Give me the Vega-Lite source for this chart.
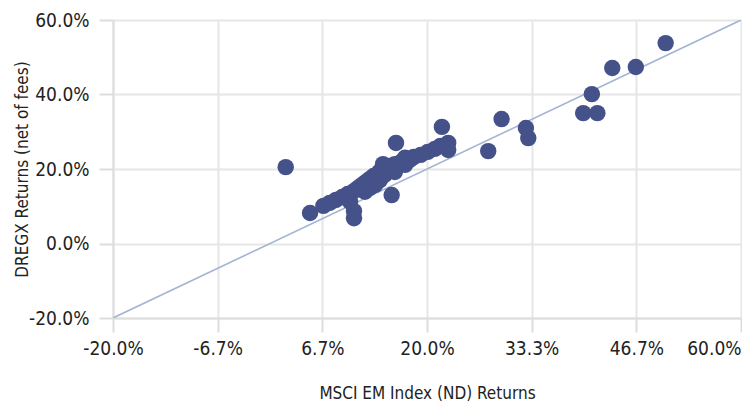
{
  "$schema": "https://vega.github.io/schema/vega-lite/v6.json",
  "width": 628,
  "height": 298,
  "autosize": {"type": "none"},
  "padding": {"left": 113, "top": 20, "right": 1, "bottom": 88},
  "background": "white",
  "config": {
    "font": "DejaVu Sans Condensed, Liberation Sans Narrow, Roboto Condensed, Roboto",
    "view": {"stroke": null},
    "axis": {
      "gridColor": "#e6e6e6",
      "gridWidth": 2,
      "domainColor": "#dddddd",
      "domainWidth": 2,
      "tickColor": "#dddddd",
      "tickWidth": 2,
      "tickSize": 14,
      "labelFontSize": 19,
      "labelColor": "#222222",
      "titleFontSize": 17,
      "titleFontWeight": "normal",
      "titleColor": "#222222"
    }
  },
  "datasets": {
    "pts": [
      {"msci": 0.020, "dregx": 0.205},
      {"msci": 0.051, "dregx": 0.082},
      {"msci": 0.107, "dregx": 0.087},
      {"msci": 0.107, "dregx": 0.068},
      {"msci": 0.155, "dregx": 0.130},
      {"msci": 0.1605, "dregx": 0.270},
      {"msci": 0.219, "dregx": 0.313},
      {"msci": 0.227, "dregx": 0.270},
      {"msci": 0.227, "dregx": 0.251},
      {"msci": 0.278, "dregx": 0.248},
      {"msci": 0.295, "dregx": 0.334},
      {"msci": 0.326, "dregx": 0.310},
      {"msci": 0.329, "dregx": 0.283},
      {"msci": 0.410, "dregx": 0.401},
      {"msci": 0.399, "dregx": 0.350},
      {"msci": 0.417, "dregx": 0.350},
      {"msci": 0.436, "dregx": 0.471},
      {"msci": 0.466, "dregx": 0.474},
      {"msci": 0.504, "dregx": 0.538},
      {"msci": 0.068, "dregx": 0.101},
      {"msci": 0.076, "dregx": 0.109},
      {"msci": 0.084, "dregx": 0.117},
      {"msci": 0.092, "dregx": 0.125},
      {"msci": 0.099, "dregx": 0.133},
      {"msci": 0.107, "dregx": 0.141},
      {"msci": 0.112, "dregx": 0.149},
      {"msci": 0.117, "dregx": 0.157},
      {"msci": 0.122, "dregx": 0.165},
      {"msci": 0.127, "dregx": 0.173},
      {"msci": 0.132, "dregx": 0.181},
      {"msci": 0.139, "dregx": 0.192},
      {"msci": 0.145, "dregx": 0.203},
      {"msci": 0.152, "dregx": 0.208},
      {"msci": 0.159, "dregx": 0.213},
      {"msci": 0.167, "dregx": 0.219},
      {"msci": 0.176, "dregx": 0.227},
      {"msci": 0.183, "dregx": 0.232},
      {"msci": 0.192, "dregx": 0.238},
      {"msci": 0.201, "dregx": 0.246},
      {"msci": 0.210, "dregx": 0.254},
      {"msci": 0.217, "dregx": 0.262},
      {"msci": 0.102, "dregx": 0.112},
      {"msci": 0.121, "dregx": 0.139},
      {"msci": 0.134, "dregx": 0.157},
      {"msci": 0.146, "dregx": 0.184},
      {"msci": 0.159, "dregx": 0.197},
      {"msci": 0.172, "dregx": 0.211},
      {"msci": 0.178, "dregx": 0.224},
      {"msci": 0.144, "dregx": 0.213},
      {"msci": 0.172, "dregx": 0.230},
      {"msci": 0.127, "dregx": 0.149},
      {"msci": 0.140, "dregx": 0.170},
      {"msci": 0.159, "dregx": 0.192}
    ],
    "diag": [
      {"msci": -0.2, "dregx": -0.2},
      {"msci": 0.6, "dregx": 0.6}
    ]
  },
  "layer": [
    {
      "data": {"name": "diag"},
      "mark": {"type": "line", "color": "#a3b4d4", "strokeWidth": 1.6, "clip": true},
      "encoding": {
        "x": {"field": "msci", "type": "quantitative"},
        "y": {"field": "dregx", "type": "quantitative"}
      }
    },
    {
      "data": {"name": "pts"},
      "mark": {"type": "circle", "size": 270, "color": "#45528a", "opacity": 1},
      "encoding": {
        "x": {
          "field": "msci",
          "type": "quantitative",
          "scale": {"domain": [-0.2, 0.6], "nice": false, "zero": false},
          "axis": {
            "title": "MSCI EM Index (ND) Returns",
            "values": [-0.2, -0.0667, 0.0667, 0.2, 0.3333, 0.4667, 0.6],
            "labelExpr": "replace(format(datum.value, '.1%'), '\u2212', '-')",
            "labelPadding": 7,
            "titlePadding": 27,
            "labelAlign": {"expr": "datum.value > 0.59 ? 'right' : 'center'"}
          }
        },
        "y": {
          "field": "dregx",
          "type": "quantitative",
          "scale": {"domain": [-0.2, 0.6], "nice": false, "zero": false},
          "axis": {
            "title": "DREGX Returns (net of fees)",
            "values": [-0.2, 0, 0.2, 0.4, 0.6],
            "labelExpr": "replace(format(datum.value, '.1%'), '\u2212', '-')",
            "labelPadding": 10,
            "titlePadding": -3
          }
        }
      }
    }
  ]
}
